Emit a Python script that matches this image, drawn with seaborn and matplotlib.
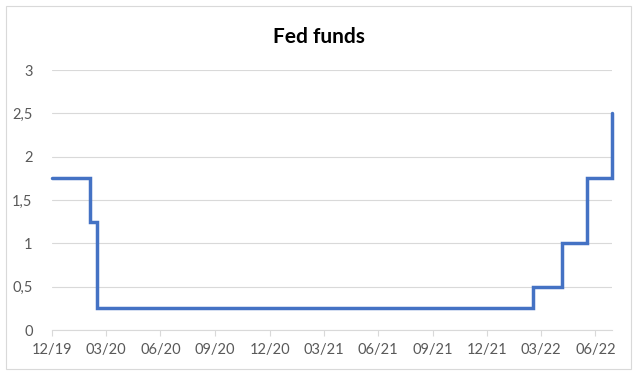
import matplotlib
matplotlib.use("Agg")
import matplotlib.pyplot as plt
import matplotlib.patches as mpatches
import seaborn as sns
import pandas as pd

# Data: Fed funds target (upper bound), step changes
change_dates = ["2019-12-31", "2020-03-03", "2020-03-16", "2022-03-17",
                "2022-05-05", "2022-06-16", "2022-07-28"]
rates = [1.75, 1.25, 0.25, 0.50, 1.00, 1.75, 2.50]

tick_dates = ["2019-12-31", "2020-03-31", "2020-06-30", "2020-09-30",
              "2020-12-31", "2021-03-31", "2021-06-30", "2021-09-30",
              "2021-12-31", "2022-03-31", "2022-06-30"]
tick_labels = ["12/19", "03/20", "06/20", "09/20", "12/20", "03/21",
               "06/21", "09/21", "12/21", "03/22", "06/22"]
y_ticks = [0, 0.5, 1, 1.5, 2, 2.5, 3]
y_labels = ["0", "0,5", "1", "1,5", "2", "2,5", "3"]

df = pd.DataFrame({"date": pd.to_datetime(change_dates), "rate": rates})

sns.set_theme(style="white")
plt.rcParams["font.family"] = ["Lato", "DejaVu Sans"]

fig, ax = plt.subplots(figsize=(6.38, 3.76), dpi=100)
fig.subplots_adjust(left=52/638, right=612/638, top=1-70/376, bottom=1-330/376)

sns.lineplot(data=df, x="date", y="rate", ax=ax, drawstyle="steps-post",
             color="#4472C4", linewidth=2.5, solid_joinstyle="miter",
             clip_on=False)

ax.set_xlim(pd.Timestamp(change_dates[0]), pd.Timestamp(change_dates[-1]))
ax.set_ylim(0, 3)
ax.set_xticks(pd.to_datetime(tick_dates))
ax.set_xticklabels(tick_labels)
ax.set_yticks(y_ticks)
ax.set_yticklabels(y_labels)
ax.set_xlabel("")
ax.set_ylabel("")

ax.grid(axis="y", color="#D9D9D9", linewidth=0.8)
ax.set_axisbelow(True)
for s in ["top", "right", "left"]:
    ax.spines[s].set_visible(False)
ax.spines["bottom"].set_color("#D9D9D9")
ax.spines["bottom"].set_linewidth(0.8)
ax.tick_params(axis="x", length=4.5, width=0.8, color="#D9D9D9", pad=5,
               labelsize=10.5, labelcolor="#595959", bottom=True, direction="out")
ax.tick_params(axis="y", length=0, pad=14, labelsize=10.5, labelcolor="#595959")

fig.text(0.5, 1-37/376, "Fed funds", ha="center", va="center",
         fontsize=15, fontweight="bold", color="black")

fig.patches.append(mpatches.Rectangle((6/638, 7/376), 625/638, 363/376,
                                      transform=fig.transFigure, fill=False,
                                      edgecolor="#D9D9D9", linewidth=0.8))

fig.savefig("out.png", dpi=100)
